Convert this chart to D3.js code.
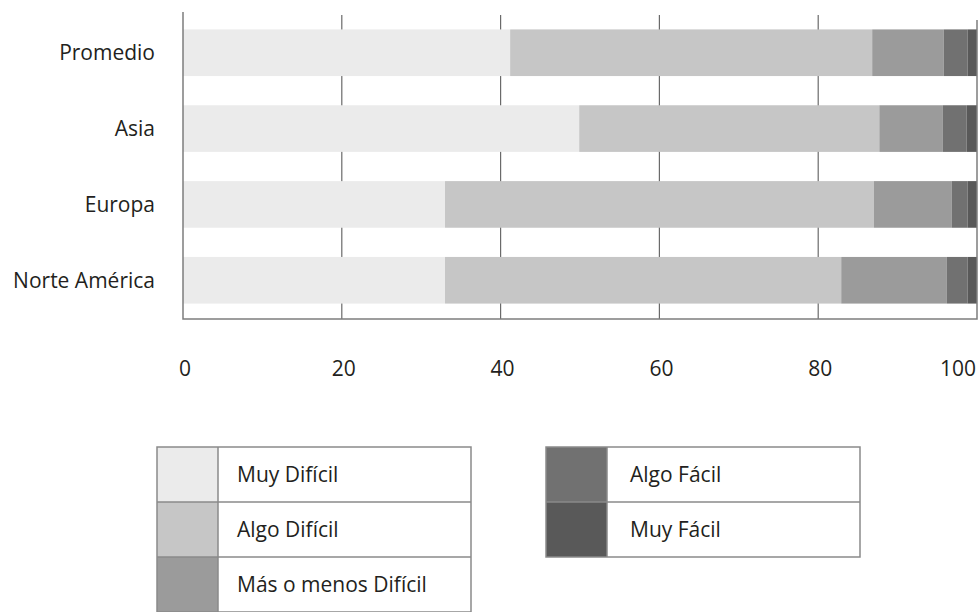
<!DOCTYPE html>
<html>
<head>
<meta charset="utf-8">
<script src="https://cdn.jsdelivr.net/npm/d3@7"></script>
<style>
  html, body { margin: 0; padding: 0; background: #fff; }
  svg text { font-family: "Open Sans", "Noto Sans", sans-serif; fill: #231f20; }
</style>
</head>
<body>
<svg id="chart" width="980" height="612"></svg>
<script>
// Regions (top to bottom) and difficulty levels (stack order, left to right)
const categories = ["Promedio", "Asia", "Europa", "Norte América"];
const levels = ["Muy Difícil", "Algo Difícil", "Más o menos Difícil", "Algo Fácil", "Muy Fácil"];

// Percentage of answers per level, one value per region
const muyDificil  = [41.2, 49.9, 33.0, 33.0];
const algoDificil = [45.6, 37.8, 54.0, 49.9];
const masOMenos   = [9.0, 8.0, 9.8, 13.3];
const algoFacil   = [3.0, 3.0, 2.0, 2.6];
const muyFacil    = [1.2, 1.3, 1.2, 1.2];

const xTicks = [0, 20, 40, 60, 80, 100];
const colors = ["#ebebeb", "#c6c6c6", "#9b9b9b", "#717171", "#595959"];

const seriesValues = [muyDificil, algoDificil, masOMenos, algoFacil, muyFacil];
const rows = categories.map((c, i) => {
  const r = { region: c };
  levels.forEach((l, k) => { r[l] = seriesValues[k][i]; });
  return r;
});

const svg = d3.select("#chart");
const plotLeft = 183, plotRight = 977, plotTop = 12, plotBottom = 319;
const fontSize = 21;

const x = d3.scaleLinear().domain([0, 100]).range([plotLeft, plotRight]);
const y = d3.scaleBand().domain(categories).range([15, plotBottom - 1])
  .paddingInner(0.385).paddingOuter(0.19);
const color = d3.scaleOrdinal().domain(levels).range(colors);

// Vertical gridlines behind the bars
svg.append("g").selectAll("line")
  .data(xTicks.filter(t => t > 0 && t < 100))
  .join("line")
  .attr("x1", d => x(d)).attr("x2", d => x(d))
  .attr("y1", plotTop + 3).attr("y2", plotBottom)
  .attr("stroke", "#6a6a6a").attr("stroke-width", 1.2);

// Stacked bars
const stacked = d3.stack().keys(levels)(rows);
svg.append("g").selectAll("g")
  .data(stacked)
  .join("g")
  .attr("fill", d => color(d.key))
  .selectAll("rect")
  .data(d => d)
  .join("rect")
  .attr("x", d => x(d[0]))
  .attr("width", d => x(d[1]) - x(d[0]))
  .attr("y", d => y(d.data.region))
  .attr("height", y.bandwidth());

// Frame: left axis, bottom axis, right edge
const frame = svg.append("g").attr("stroke", "#7d7d7d").attr("stroke-width", 1.5).attr("fill", "none");
frame.append("path").attr("d", `M${plotLeft},${plotTop}V${plotBottom}H${plotRight}V${plotTop + 8}`);

// Region labels
svg.append("g").selectAll("text")
  .data(categories)
  .join("text")
  .attr("x", 155)
  .attr("y", d => y(d) + y.bandwidth() / 2)
  .attr("dy", "0.35em")
  .attr("text-anchor", "end")
  .attr("font-size", fontSize)
  .text(d => d);

// X tick labels
svg.append("g").selectAll("text")
  .data(xTicks)
  .join("text")
  .attr("x", d => d === 100 ? x(d) - 1 : x(d) + 2)
  .attr("y", 369)
  .attr("dy", "0.35em")
  .attr("text-anchor", d => d === 100 ? "end" : "middle")
  .attr("font-size", fontSize)
  .text(d => d);

// Legend: two boxed tables
function legendTable(items, x0, y0, textOffset) {
  const rowH = 55, swW = 61, w = 314;
  const g = svg.append("g");
  items.forEach((name, i) => {
    const yy = y0 + i * rowH;
    g.append("rect").attr("x", x0).attr("y", yy).attr("width", swW).attr("height", rowH)
      .attr("fill", color(name));
    g.append("rect").attr("x", x0 + swW).attr("y", yy).attr("width", w - swW).attr("height", rowH)
      .attr("fill", "#fff");
    g.append("text").attr("x", x0 + swW + textOffset).attr("y", yy + rowH / 2)
      .attr("dy", "0.35em").attr("font-size", fontSize).text(name);
  });
  const lines = g.append("g").attr("stroke", "#8a8a8a").attr("stroke-width", 1.5).attr("fill", "none");
  lines.append("rect").attr("x", x0).attr("y", y0).attr("width", w).attr("height", items.length * rowH);
  lines.append("line").attr("x1", x0 + swW).attr("x2", x0 + swW).attr("y1", y0).attr("y2", y0 + items.length * rowH);
  items.slice(1).forEach((_, i) => {
    lines.append("line").attr("x1", x0).attr("x2", x0 + w)
      .attr("y1", y0 + (i + 1) * rowH).attr("y2", y0 + (i + 1) * rowH);
  });
}
legendTable(levels.slice(0, 3), 157, 447, 19);
legendTable(levels.slice(3), 546, 447, 23);
</script>
</body>
</html>
